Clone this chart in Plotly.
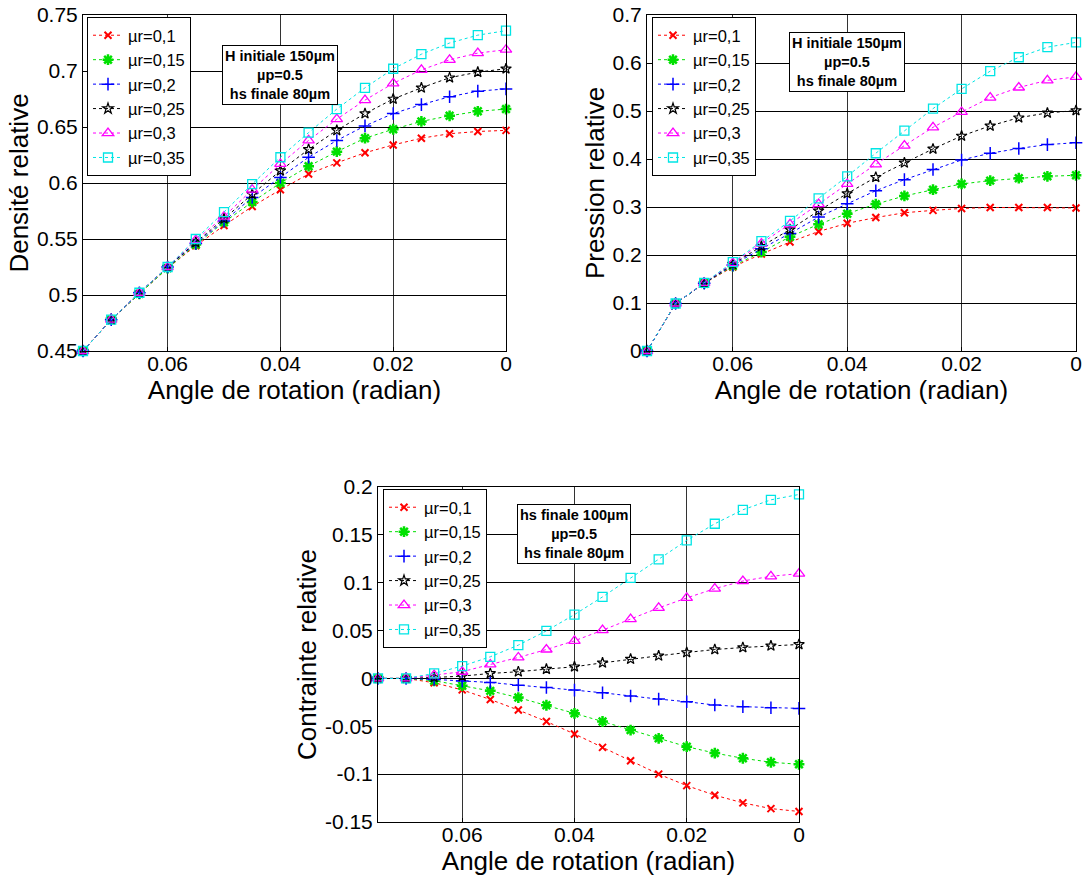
import plotly.graph_objects as go

# ---------------- data ----------------
angle = [0.075, 0.07, 0.065, 0.06, 0.055, 0.05, 0.045, 0.04, 0.035, 0.03,
         0.025, 0.02, 0.015, 0.01, 0.005, 0.0]

series_names = ["µr=0,1", "µr=0,15", "µr=0,2", "µr=0,25", "µr=0,3", "µr=0,35"]

dens_01 = [0.45, 0.478, 0.501, 0.524, 0.544, 0.562, 0.579, 0.594, 0.608, 0.618, 0.627, 0.634, 0.640, 0.644, 0.646, 0.647]
dens_015 = [0.45, 0.478, 0.501, 0.524, 0.545, 0.565, 0.583, 0.600, 0.615, 0.628, 0.640, 0.648, 0.655, 0.660, 0.664, 0.666]
dens_02 = [0.45, 0.478, 0.502, 0.525, 0.546, 0.566, 0.587, 0.605, 0.623, 0.638, 0.651, 0.662, 0.670, 0.677, 0.682, 0.684]
dens_025 = [0.45, 0.478, 0.502, 0.525, 0.547, 0.568, 0.590, 0.611, 0.630, 0.647, 0.662, 0.675, 0.685, 0.694, 0.699, 0.702]
dens_03 = [0.45, 0.478, 0.502, 0.525, 0.549, 0.570, 0.594, 0.617, 0.638, 0.657, 0.674, 0.689, 0.701, 0.710, 0.716, 0.719]
dens_035 = [0.45, 0.478, 0.502, 0.525, 0.550, 0.574, 0.599, 0.623, 0.645, 0.666, 0.685, 0.702, 0.715, 0.725, 0.732, 0.736]

pres_01 = [0, 0.099, 0.141, 0.175, 0.202, 0.227, 0.249, 0.266, 0.278, 0.288, 0.293, 0.297, 0.299, 0.299, 0.299, 0.298]
pres_015 = [0, 0.099, 0.141, 0.177, 0.206, 0.238, 0.264, 0.286, 0.306, 0.323, 0.336, 0.348, 0.355, 0.360, 0.364, 0.366]
pres_02 = [0, 0.099, 0.141, 0.179, 0.213, 0.245, 0.279, 0.307, 0.334, 0.357, 0.378, 0.398, 0.412, 0.422, 0.430, 0.434]
pres_025 = [0, 0.099, 0.141, 0.181, 0.218, 0.253, 0.292, 0.328, 0.362, 0.392, 0.421, 0.448, 0.469, 0.486, 0.496, 0.501]
pres_03 = [0, 0.099, 0.142, 0.183, 0.224, 0.264, 0.306, 0.348, 0.389, 0.428, 0.466, 0.498, 0.528, 0.549, 0.564, 0.571]
pres_035 = [0, 0.099, 0.142, 0.185, 0.229, 0.271, 0.318, 0.364, 0.412, 0.459, 0.505, 0.546, 0.583, 0.612, 0.633, 0.643]

cont_01 = [0, 0, -0.0045, -0.012, -0.022, -0.033, -0.045, -0.058, -0.072, -0.086, -0.100, -0.112, -0.122, -0.130, -0.136, -0.139]
cont_015 = [0, 0, -0.0024, -0.0076, -0.013, -0.020, -0.028, -0.0365, -0.045, -0.054, -0.0626, -0.0713, -0.078, -0.0834, -0.0876, -0.0897]
cont_02 = [0, 0, -0.001, -0.0028, -0.0042, -0.007, -0.0094, -0.0122, -0.015, -0.0184, -0.0216, -0.0243, -0.0278, -0.0295, -0.0306, -0.0313]
cont_025 = [0, 0, 0.001, 0.0024, 0.0052, 0.007, 0.0097, 0.0122, 0.0163, 0.0202, 0.0236, 0.0271, 0.0302, 0.0323, 0.0341, 0.0355]
cont_03 = [0, 0, 0.0035, 0.007, 0.0146, 0.0219, 0.0302, 0.0393, 0.0504, 0.0619, 0.0737, 0.0841, 0.0938, 0.1018, 0.1067, 0.1095]
cont_035 = [0, 0, 0.0052, 0.0129, 0.0226, 0.0348, 0.0497, 0.0667, 0.0852, 0.105, 0.1244, 0.1442, 0.1616, 0.1762, 0.1866, 0.1922]

x_tickvals = [0.06, 0.04, 0.02, 0.0]
x_ticktext = ["0.06", "0.04", "0.02", "0"]
dens_ticks = [0.45, 0.5, 0.55, 0.6, 0.65, 0.7, 0.75]
dens_ticktext = ["0.45", "0.5", "0.55", "0.6", "0.65", "0.7", "0.75"]
pres_ticks = [0, 0.1, 0.2, 0.3, 0.4, 0.5, 0.6, 0.7]
pres_ticktext = ["0", "0.1", "0.2", "0.3", "0.4", "0.5", "0.6", "0.7"]
cont_ticks = [-0.15, -0.1, -0.05, 0, 0.05, 0.1, 0.15, 0.2]
cont_ticktext = ["-0.15", "-0.1", "-0.05", "0", "0.05", "0.1", "0.15", "0.2"]

x_title = "Angle de rotation (radian)"
y_titles = ["Densité relative", "Pression relative", "Contrainte relative"]
note_top = "<b>H initiale 150µm<br>µp=0.5<br>hs finale 80µm</b>"
note_bottom = "<b>hs finale 100µm<br>µp=0.5<br>hs finale 80µm</b>"

# ---------------- styles ----------------
colors = ["#ff0000", "#00e000", "#0000ff", "#000000", "#ff00ff", "#00e5e5"]
symbols = ["x-thin-open", "asterisk-open", "cross-thin-open", "star-open",
           "triangle-up-open", "square-open"]
msizes = [7, 9, 9, 8, 10, 9]
mlw = [2, 2.5, 1.5, 1.2, 1.3, 1.3]

FONT = "Liberation Sans, Arial, sans-serif"

fig = go.Figure()

datasets = [
    ([dens_01, dens_015, dens_02, dens_025, dens_03, dens_035], "x", "y", "legend"),
    ([pres_01, pres_015, pres_02, pres_025, pres_03, pres_035], "x2", "y2", "legend2"),
    ([cont_01, cont_015, cont_02, cont_025, cont_03, cont_035], "x3", "y3", "legend3"),
]

for ys, xa, ya, lg in datasets:
    for i, y in enumerate(ys):
        fig.add_trace(go.Scatter(
            x=angle, y=y, xaxis=xa, yaxis=ya, legend=lg,
            name=series_names[i], mode="lines+markers",
            line=dict(color=colors[i], width=1, dash="dot"),
            marker=dict(symbol=symbols[i], size=msizes[i], color=colors[i],
                        line=dict(color=colors[i], width=mlw[i])),
            cliponaxis=False,
        ))

# body margin is removed by a post script, so page pixels == figure pixels
W, H = 1092, 880
def dx(a, b):
    return [a / W, b / W]
def dy(top, bottom):
    return [1 - bottom / H, 1 - top / H]
def px(a):
    return a / W
def py(t):
    return 1 - t / H

def xaxis_cfg(domain, anchor):
    return dict(domain=domain, anchor=anchor, range=[0.075, 0.0],
                tickvals=x_tickvals, ticktext=x_ticktext,
                showgrid=True, gridcolor="#333333", gridwidth=1,
                showline=True, mirror=True, linecolor="black", linewidth=1,
                ticks="inside", ticklen=4, tickcolor="black",
                ticklabelstandoff=-6, ticklabeloverflow="allow",
                tickfont=dict(size=21, color="black", family=FONT),
                title=dict(text=x_title, font=dict(size=26, color="black", family=FONT),
                           standoff=0),
                zeroline=False)

def yaxis_cfg(domain, anchor, rng, tv, tt, title):
    return dict(domain=domain, anchor=anchor, range=rng,
                tickvals=tv, ticktext=tt,
                showgrid=True, gridcolor="black", gridwidth=1,
                showline=True, mirror=True, linecolor="black", linewidth=1,
                ticks="inside", ticklen=4, tickcolor="black",
                ticklabeloverflow="allow",
                tickfont=dict(size=21, color="black", family=FONT),
                title=dict(text=title, font=dict(size=26, color="black", family=FONT),
                           standoff=0),
                zeroline=False)

legend_style = dict(bgcolor="white", bordercolor="black", borderwidth=1,
                    font=dict(size=16.5, color="black", family=FONT),
                    xanchor="left", yanchor="top", tracegroupgap=0,
                    xref="paper", yref="paper")

fig.update_layout(
    width=W, height=H,
    margin=dict(l=0, r=0, t=0, b=0, autoexpand=False),
    paper_bgcolor="white", plot_bgcolor="white",
    font=dict(family=FONT, color="black"),
    xaxis=xaxis_cfg(dx(83, 506), "y"),
    yaxis=yaxis_cfg(dy(15, 351), "x", [0.45, 0.75], dens_ticks, dens_ticktext, y_titles[0]),
    xaxis2=xaxis_cfg(dx(647, 1076), "y2"),
    yaxis2=yaxis_cfg(dy(15, 351), "x2", [0, 0.7], pres_ticks, pres_ticktext, y_titles[1]),
    xaxis3=xaxis_cfg(dx(378, 799), "y3"),
    yaxis3=yaxis_cfg(dy(487, 822), "x3", [-0.15, 0.2], cont_ticks, cont_ticktext, y_titles[2]),
    legend=dict(x=px(87), y=py(17), **legend_style),
    legend2=dict(x=px(652), y=py(17), **legend_style),
    legend3=dict(x=px(383), y=py(489), **legend_style),
    showlegend=True,
)

ann_style = dict(showarrow=False, bgcolor="white", bordercolor="black", borderwidth=1,
                 borderpad=2, font=dict(size=14.5, color="black", family=FONT),
                 align="center", xanchor="center", yanchor="middle")
fig.add_annotation(text=note_top, x=0.04, y=0.696, xref="x", yref="y", **ann_style)
fig.add_annotation(text=note_top, x=0.04, y=0.602, xref="x2", yref="y2", **ann_style)
fig.add_annotation(text=note_bottom, x=0.04, y=0.1504, xref="x3", yref="y3", **ann_style)

fig.write_html("out.html",
               config={"displayModeBar": False},
               post_script="document.body.style.margin='0px';document.body.style.overflow='hidden';")
